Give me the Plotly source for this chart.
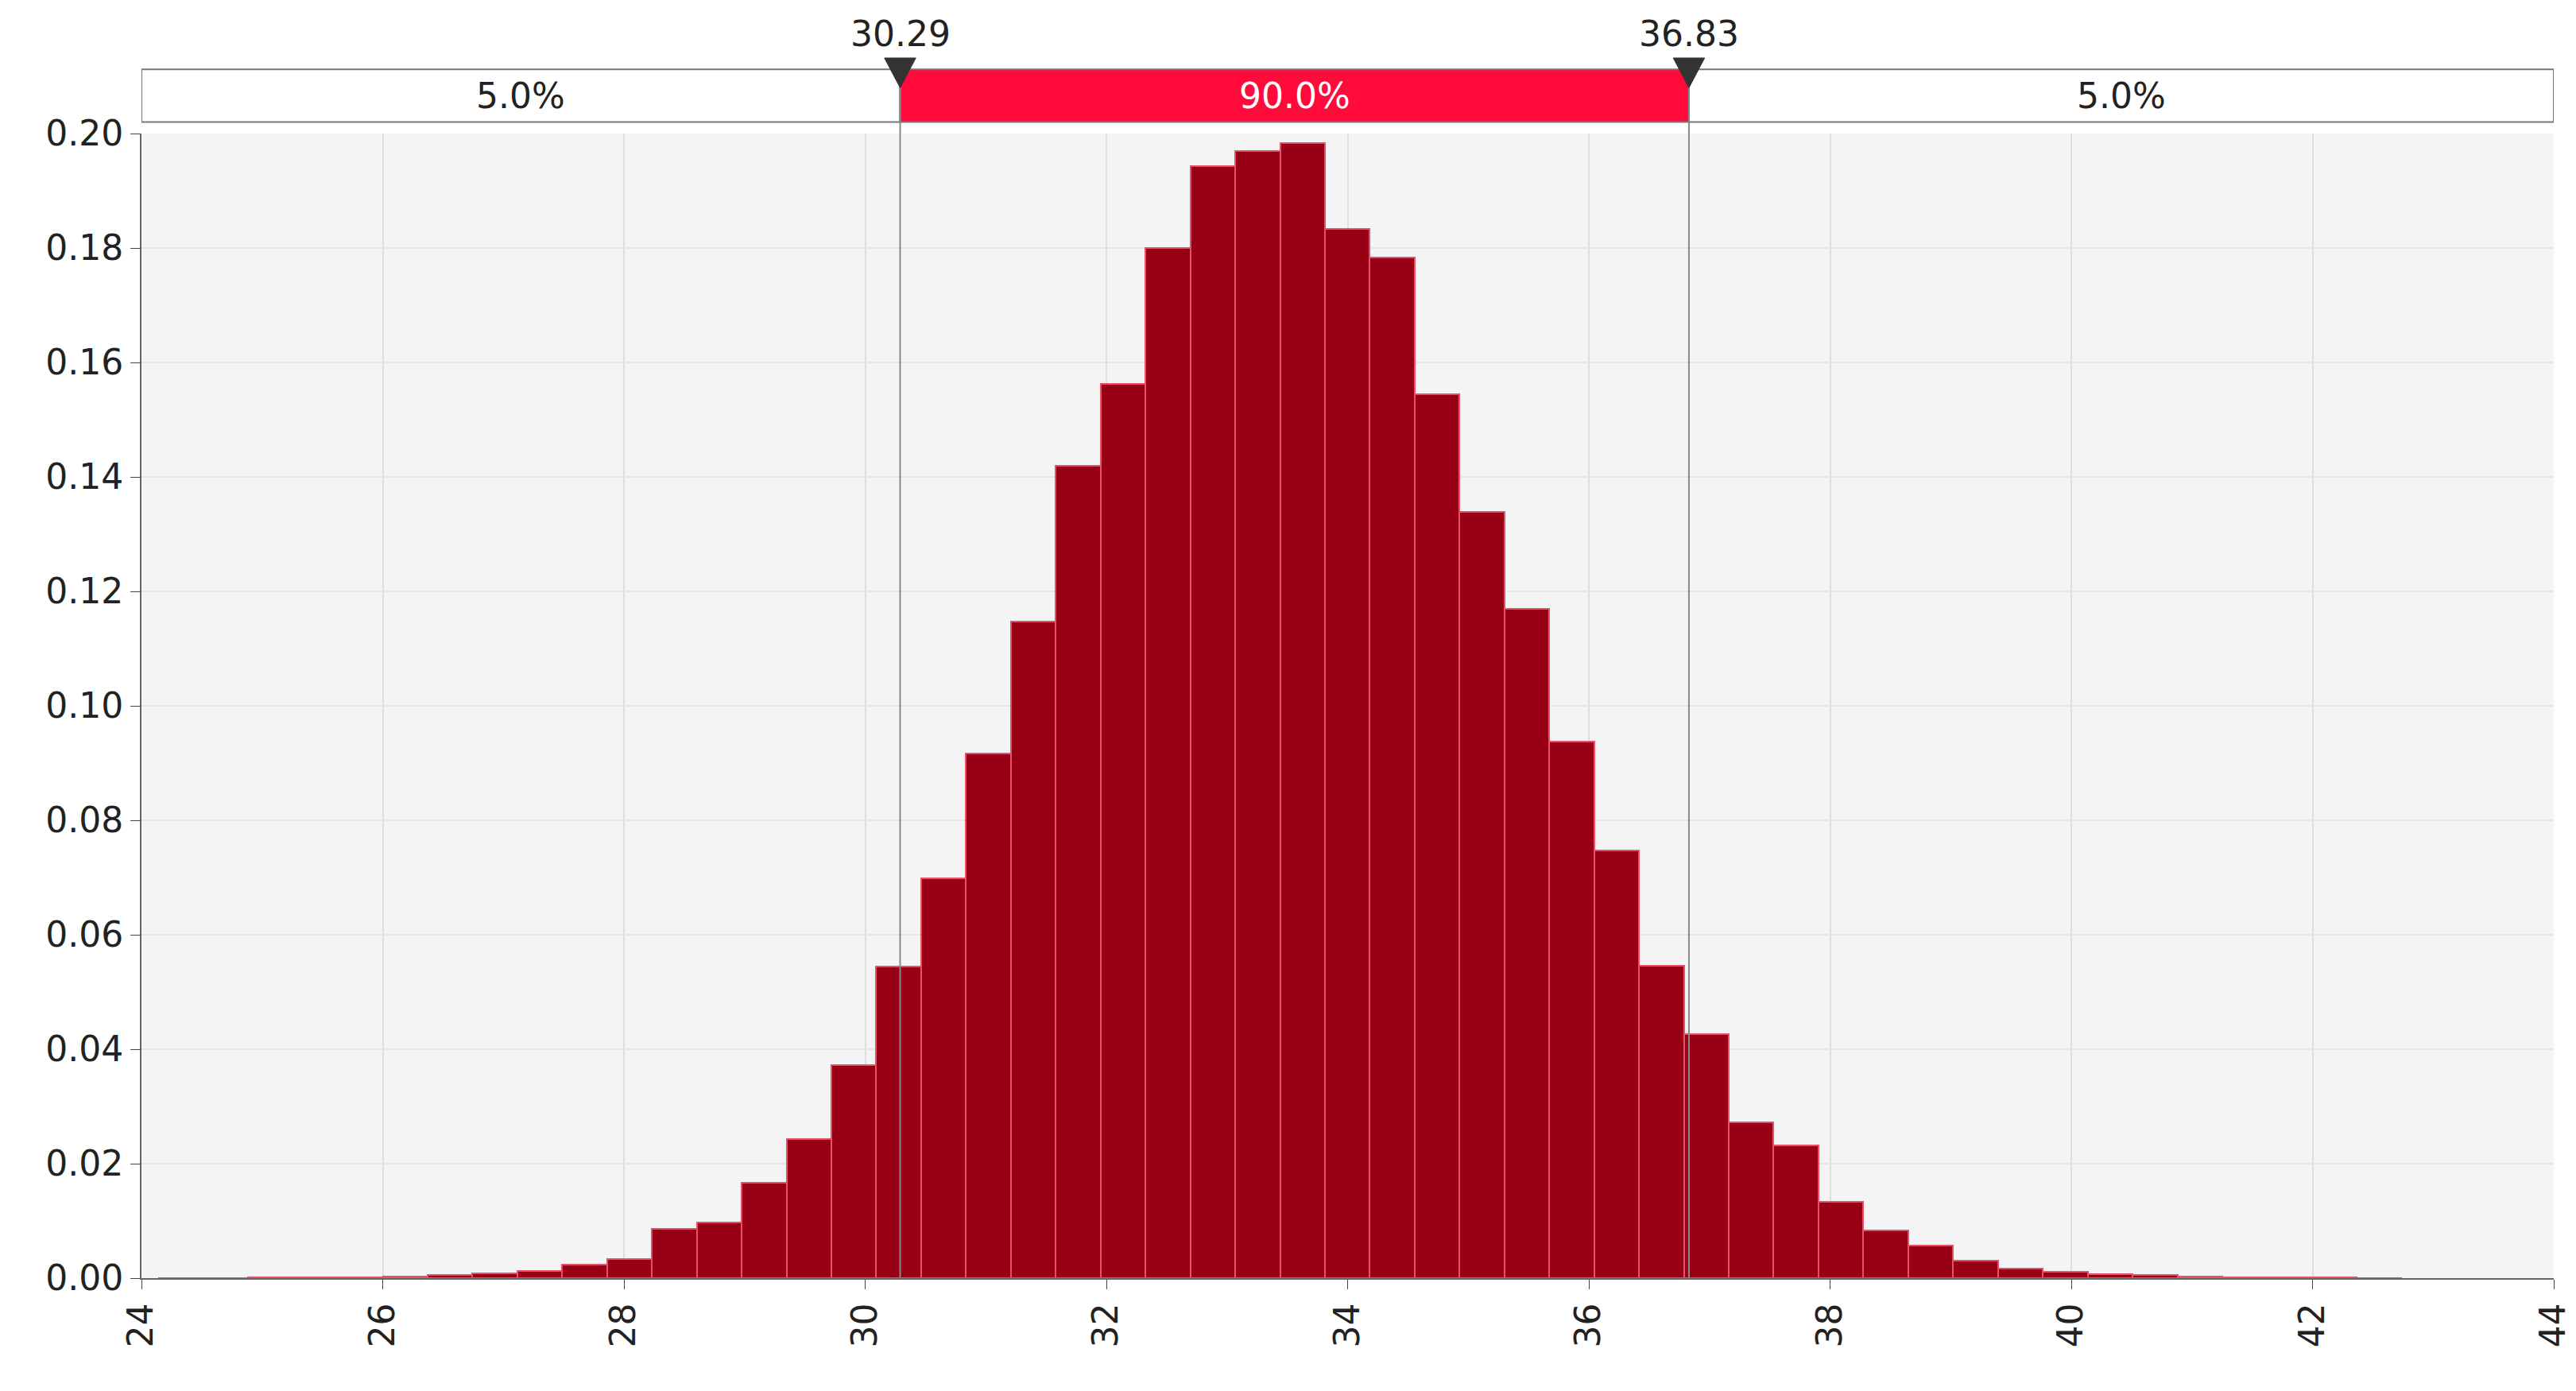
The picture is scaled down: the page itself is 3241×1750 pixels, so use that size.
import plotly.graph_objects as go

bin_width = 0.372
first_edge = 24.14
heights = [0.00003, 0.00005, 0.0001, 0.0001, 0.0002, 0.0003, 0.0005, 0.0008, 0.0012, 0.0023, 0.0034,
           0.0086, 0.0097, 0.0166, 0.0243, 0.0372, 0.0544, 0.0698, 0.0916, 0.1147, 0.1419,
           0.1562, 0.1800, 0.1943, 0.1969, 0.1983, 0.1834, 0.1783, 0.1545, 0.1339, 0.1170,
           0.0938, 0.0747, 0.0546, 0.0426, 0.0272, 0.0232, 0.0134, 0.0083, 0.0057, 0.0031,
           0.0017, 0.0011, 0.0007, 0.0005, 0.0003, 0.0002, 0.0001, 0.0001, 0.00005]
centers = [first_edge + bin_width * (i + 0.5) for i in range(len(heights))]
lower, upper = 30.29, 36.83
band_labels = ["5.0%", "90.0%", "5.0%"]
x_ticks = list(range(24, 45, 2))
y_ticks = [round(0.02 * i, 2) for i in range(11)]

fig = go.Figure(go.Bar(x=centers, y=heights, width=bin_width,
                       marker=dict(color="#980016", line=dict(color="#e8506a", width=2))))

font = dict(family="DejaVu Sans", size=44, color="#222")
shapes = []
annotations = []
y0, y1 = 1.010, 1.056
segs = [(24, lower, "white"), (lower, upper, "#ff0a3a"), (upper, 44, "white")]
for (a, b, c), lab in zip(segs, band_labels):
    shapes.append(dict(type="rect", xref="x", yref="paper", x0=a, x1=b, y0=y0, y1=y1,
                       fillcolor=c, line=dict(color="#777", width=2)))
    annotations.append(dict(x=(a + b) / 2, y=(y0 + y1) / 2, xref="x", yref="paper", text=lab,
                            showarrow=False, yanchor="middle", xanchor="center",
                            font=dict(family="DejaVu Sans", size=44,
                                      color="white" if c != "white" else "#222")))
for v in (lower, upper):
    shapes.append(dict(type="line", xref="x", yref="paper", x0=v, x1=v, y0=0, y1=y1,
                       line=dict(color="#888", width=2)))
    shapes.append(dict(type="path", xref="x", yref="paper",
                       path=f"M {v-0.13} 1.066 L {v+0.13} 1.066 L {v} 1.040 Z",
                       fillcolor="#333", line=dict(color="#333", width=1)))
    annotations.append(dict(x=v, y=1.068, xref="x", yref="paper", text=f"{v:.2f}",
                            showarrow=False, yanchor="bottom", font=font))

fig.update_layout(width=3241, height=1750, margin=dict(l=170, r=32, t=160, b=150),
                  paper_bgcolor="white", plot_bgcolor="#f4f4f4", showlegend=False,
                  bargap=0, shapes=shapes, annotations=annotations)
fig.update_xaxes(range=[24, 44], tickvals=x_ticks, tickangle=-90, tickfont=font,
                 showgrid=True, gridcolor="#dedede", gridwidth=2, ticks="outside", ticklen=12,
                 showline=True, linecolor="#666", linewidth=2, zeroline=False)
fig.update_yaxes(range=[0, 0.2], tickvals=y_ticks, tickformat=".2f", tickfont=font,
                 showgrid=True, gridcolor="#e6e6e6", gridwidth=2, ticks="outside", ticklen=12,
                 showline=True, linecolor="#666", linewidth=2, zeroline=False)
fig.write_html("out.html")
